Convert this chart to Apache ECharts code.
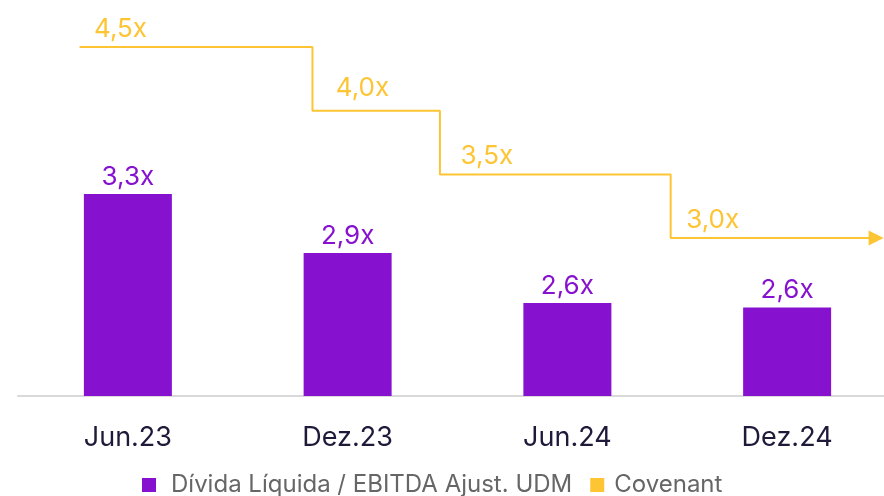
<!DOCTYPE html>
<html>
<head>
<meta charset="utf-8">
<script src="https://cdn.jsdelivr.net/npm/echarts@6/dist/echarts.min.js"></script>
<style>
  html, body { margin: 0; padding: 0; background: #fff; }
  #chart { width: 884px; height: 496px; }
</style>
</head>
<body>
<div id="chart"></div>
<script>
// categorias e valores
var categories = ['Jun.23', 'Dez.23', 'Jun.24', 'Dez.24'];
var divida = [3.3, 2.9, 2.56, 2.53];
var dividaLabels = ['3,3x', '2,9x', '2,6x', '2,6x'];
// covenant: [posição x (índice da categoria), valor]
var covenantX = [-0.22, 0.84, 1.42, 2.47, 3.405];
var covenant = [4.5, 4.0, 3.5, 3.0, 3.0];

var roxo = '#8612d0';
var amarelo = '#fdc534';
var fonte = 'Inter, "Noto Sans", sans-serif';
// deslocamento dos rótulos do covenant
var covLabelOffset = [[41, 0], [50, -5], [47, 0], [42, 0]];

var myChart = echarts.init(document.getElementById('chart'));

var covData = covenantX.map(function (x, i) {
  var item = { value: [x, covenant[i]] };
  if (i < covenant.length - 1) {
    item.symbolSize = 0;
    item.label = {
      show: true,
      position: 'top',
      offset: covLabelOffset[i],
      formatter: function (p) { return p.value[1].toFixed(1).replace('.', ',') + 'x'; }
    };
  } else {
    item.symbol = 'path://M0,0L10,5L0,10Z';
    item.symbolSize = [15, 15];
  }
  return item;
});

var option = {
  animation: false,
  textStyle: { fontFamily: fonte },
  grid: { left: 18, width: 879, top: 0, bottom: 100, outerBoundsMode: 'none' },
  legend: {
    bottom: -6,
    left: 137,
    itemWidth: 14,
    itemHeight: 14,
    itemGap: 18,
    icon: 'rect',
    textStyle: { fontSize: 24, color: '#666', fontFamily: fonte },
    data: [
      { name: 'Dívida Líquida / EBITDA Ajust. UDM', textStyle: { padding: [0, 0, 0, 10] } },
      { name: 'Covenant', textStyle: { padding: [0, 0, 0, 5] } }
    ]
  },
  xAxis: [
    {
      type: 'category',
      data: categories,
      axisLine: { lineStyle: { color: '#d9d9d9', width: 2 } },
      axisTick: { show: false },
      axisLabel: { fontSize: 27, color: '#1f1a3a', margin: 28, fontFamily: fonte }
    },
    { type: 'value', min: -0.5, max: 3.5, show: false }
  ],
  yAxis: [
    { type: 'value', min: 1.93, max: 4.615, show: false },
    { type: 'value', min: 1.759, max: 4.87, show: false }
  ],
  series: [
    {
      name: 'Dívida Líquida / EBITDA Ajust. UDM',
      type: 'bar',
      data: divida,
      barWidth: 88,
      itemStyle: { color: roxo },
      label: {
        show: true,
        position: 'top',
        distance: 4,
        fontSize: 26,
        color: roxo,
        fontFamily: fonte,
        formatter: function (p) { return dividaLabels[p.dataIndex]; }
      }
    },
    {
      name: 'Covenant',
      type: 'line',
      xAxisIndex: 1,
      yAxisIndex: 1,
      step: 'end',
      data: covData,
      symbol: 'circle',
      showSymbol: true,
      lineStyle: { color: amarelo, width: 2 },
      itemStyle: { color: amarelo },
      label: { fontSize: 26, color: amarelo, fontFamily: fonte }
    }
  ]
};

myChart.setOption(option);
</script>
</body>
</html>
